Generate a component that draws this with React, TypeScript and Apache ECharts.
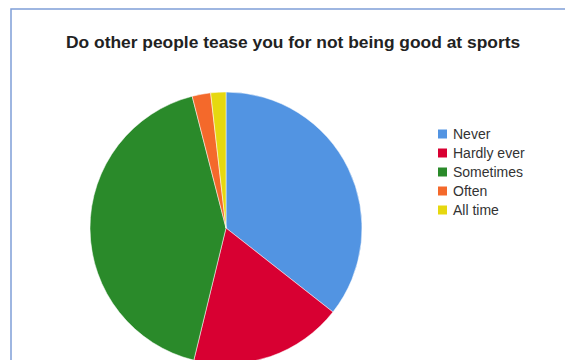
import React, { useEffect, useRef } from "react";
import * as echarts from "echarts";

const titleText = "Do other people tease you for not being good at sports";
const categories = ["Never", "Hardly ever", "Sometimes", "Often", "All time"];
const values = [35.6, 18.2, 42.2, 2.2, 1.8];
const colors = ["#5294e2", "#d80032", "#2a8a2a", "#f4692b", "#e6d80f"];

export default function App() {
  const ref = useRef<HTMLDivElement>(null);
  useEffect(() => {
    if (!ref.current) return;
    const chart = echarts.init(ref.current, undefined, { renderer: "svg" });
    chart.setOption({
      animation: false,
      backgroundColor: "#ffffff",
      title: {
        text: titleText,
        left: 61,
        top: 28,
        textStyle: {
          fontFamily: "Liberation Sans, Arial, sans-serif",
          fontSize: 17.4,
          fontWeight: "bold",
          color: "#222222",
        },
      },
      legend: {
        orient: "vertical",
        left: 431,
        top: 122,
        icon: "rect",
        itemWidth: 11,
        itemHeight: 11,
        itemGap: 5,
        data: categories,
        textStyle: {
          fontFamily: "Liberation Sans, Arial, sans-serif",
          fontSize: 14,
          color: "#333333",
        },
      },
      graphic: [
        {
          type: "rect",
          shape: { x: 11, y: 9, width: 700, height: 500 },
          style: { fill: "none", stroke: "#7f9fd8", lineWidth: 1.5 },
          silent: true,
        },
      ],
      series: [
        {
          type: "pie",
          center: [226, 228],
          radius: 136,
          startAngle: 90,
          clockwise: true,
          label: { show: false },
          labelLine: { show: false },
          itemStyle: { borderColor: "#ffffff", borderWidth: 0.5 },
          emphasis: { disabled: true },
          data: categories.map((name, i) => ({
            name,
            value: values[i],
            itemStyle: { color: colors[i] },
          })),
        },
      ],
    });
    return () => chart.dispose();
  }, []);
  return (
    <div
      ref={ref}
      style={{ position: "fixed", left: 0, top: 0, width: 565, height: 360 }}
    />
  );
}
